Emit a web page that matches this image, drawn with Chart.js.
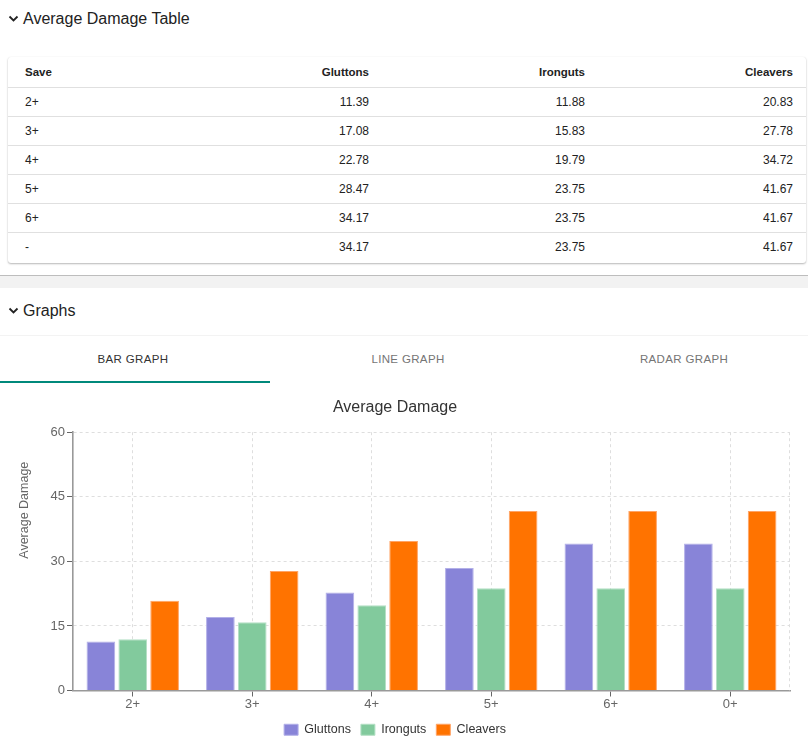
<!DOCTYPE html>
<html>
<head>
<meta charset="utf-8">
<script src="https://cdn.jsdelivr.net/npm/chart.js@4.4.1/dist/chart.umd.min.js"></script>
<style>
  html, body { margin: 0; padding: 0; background: #fff; }
  body { width: 808px; height: 739px; position: relative; overflow: hidden; font-family: Arial, "Liberation Sans", sans-serif; color: #222; }
  .head { position: absolute; left: 0; width: 808px; height: 24px; font-size: 16px; line-height: 24px; }
  .head svg { position: absolute; left: 8px; top: 8px; }
  .head span { position: absolute; left: 23px; top: 0; }
  .card { position: absolute; left: 8px; top: 57px; width: 798px; height: 206px; background: #fff;
          border-radius: 3px; box-shadow: 0 1px 2px rgba(0,0,0,0.28), 0 0 1px rgba(0,0,0,0.08); overflow: hidden; }
  table { border-collapse: collapse; width: 798px; table-layout: fixed; }
  th, td { padding: 0 13px 0 17px; font-size: 12px; }
  th { height: 30px; font-weight: bold; font-size: 11.5px; border-bottom: 1px solid #e0e0e0; }
  td { height: 28px; border-bottom: 1px solid #e0e0e0; }
  tr:last-child td { border-bottom: none; }
  th.num, td.num { text-align: right; }
  th.lbl, td.lbl { text-align: left; }
  .band { position: absolute; left: 0; top: 275px; width: 808px; height: 12px; background: #f2f2f2; border-top: 1px solid #bdbdbd; }
  .sep { position: absolute; left: 0; top: 335px; width: 808px; height: 1px; background: #f3f3f3; }
  .tab { position: absolute; top: 350px; width: 200px; text-align: center; font-size: 11.5px; letter-spacing: 0.35px; color: #757575; line-height: 18px; }
  .tab.on { color: #333; }
  .ink { position: absolute; left: 0; top: 381px; width: 270px; height: 2px; background: #00897b; }
  #wrap { position: absolute; left: 0; top: 390px; width: 808px; height: 356px; }
</style>
</head>
<body>
<div class="head" style="top:7px"><svg width="11" height="8" viewBox="0 0 11 8"><polyline points="1.5,1.5 5.5,5.5 9.5,1.5" fill="none" stroke="#222" stroke-width="1.8"/></svg><span>Average Damage Table</span></div>
<div class="card"><table id="tbl"></table></div>
<div class="band"></div>
<div class="head" style="top:299px"><svg width="11" height="8" viewBox="0 0 11 8"><polyline points="1.5,1.5 5.5,5.5 9.5,1.5" fill="none" stroke="#222" stroke-width="1.8"/></svg><span>Graphs</span></div>
<div class="sep"></div>
<div class="tab on" style="left:33px">BAR GRAPH</div>
<div class="tab" style="left:308px">LINE GRAPH</div>
<div class="tab" style="left:584px">RADAR GRAPH</div>
<div class="ink"></div>
<div id="wrap"><canvas id="chart"></canvas></div>

<script>
// Dati: righe della tabella e categorie del grafico (l'ultima riga "-" nel grafico è "0+").
const saveRows = ['2+', '3+', '4+', '5+', '6+', '-'];
const saveLabels = ['2+', '3+', '4+', '5+', '6+', '0+'];
const seriesNames = ['Gluttons', 'Ironguts', 'Cleavers'];
const gluttons = [11.39, 17.08, 22.78, 28.47, 34.17, 34.17];
const ironguts = [11.88, 15.83, 19.79, 23.75, 23.75, 23.75];
const cleavers = [20.83, 27.78, 34.72, 41.67, 41.67, 41.67];
const yTicks = [0, 15, 30, 45, 60];

const COLORS = ['#8884d8', '#82ca9d', '#ff7300'];
const EDGES = ['#b3b0e8', '#b4e0c4', '#ffa466'];
const seriesValues = [gluttons, ironguts, cleavers];

// Tabella
const tbl = document.getElementById('tbl');
const colW = [182, 192, 216, 208];
let html = '<colgroup>' + colW.map((w) => `<col style="width:${w}px">`).join('') + '</colgroup>';
html += '<tr><th class="lbl">Save</th>' + seriesNames.map((n) => `<th class="num">${n}</th>`).join('') + '</tr>';
saveRows.forEach((s, i) => {
  html += `<tr><td class="lbl">${s}</td>` + seriesValues.map((v) => `<td class="num">${v[i].toFixed(2)}</td>`).join('') + '</tr>';
});
tbl.innerHTML = html;

const font = { family: 'Arial, "Liberation Sans", sans-serif' };
const axisGrey = '#666';

// Bordo destro tratteggiato + titolo asse Y (spostato verso l'alto come nell'originale).
const extras = {
  id: 'extras',
  beforeDatasetsDraw(chart) {
    const { ctx, chartArea } = chart;
    ctx.save();
    ctx.strokeStyle = '#dedede';
    ctx.lineWidth = 1;
    ctx.setLineDash([3, 3]);
    ctx.beginPath();
    ctx.moveTo(chartArea.right - 0.5, chartArea.top);
    ctx.lineTo(chartArea.right - 0.5, chartArea.bottom);
    ctx.stroke();
    ctx.restore();
  },
  afterDraw(chart) {
    const { ctx, chartArea } = chart;
    ctx.save();
    ctx.translate(25, chartArea.top + 78);
    ctx.rotate(-Math.PI / 2);
    ctx.fillStyle = axisGrey;
    ctx.font = '12.5px Arial, "Liberation Sans", sans-serif';
    ctx.textAlign = 'center';
    ctx.textBaseline = 'middle';
    ctx.fillText('Average Damage', 0, 0);
    ctx.restore();
  },
};

new Chart(document.getElementById('chart'), {
  type: 'bar',
  data: {
    labels: saveLabels,
    datasets: seriesNames.map((name, i) => ({
      label: name,
      data: seriesValues[i],
      backgroundColor: COLORS[i],
      borderColor: EDGES[i],
      borderWidth: 1,
      categoryPercentage: 0.8,
      barPercentage: 0.9,
    })),
  },
  options: {
    responsive: true,
    maintainAspectRatio: false,
    animation: false,
    layout: { padding: { right: 18 } },
    scales: {
      x: {
        grid: { offset: false, color: '#dedede', tickColor: axisGrey, tickLength: 6, tickBorderDash: [] },
        border: { color: '#999', width: 1.6, dash: [3, 3] },
        ticks: { color: axisGrey, font: { ...font, size: 13 }, padding: 0 },
        afterFit: (s) => { s.height = 23; },
      },
      y: {
        min: 0, max: 60,
        afterBuildTicks: (s) => { s.ticks = yTicks.map((v) => ({ value: v })); },
        grid: { color: '#dedede', tickColor: axisGrey, tickLength: 6, tickBorderDash: [] },
        border: { color: '#999', width: 1.6, dash: [3, 3] },
        ticks: { color: axisGrey, font: { ...font, size: 13 }, padding: 2 },
        afterFit: (s) => { s.width = 73; },
      },
    },
    plugins: {
      title: { display: true, text: 'Average Damage', color: '#333', font: { ...font, size: 16, weight: 'normal' }, padding: { top: 8, bottom: 15 } },
      legend: {
        position: 'bottom',
        labels: { color: '#333', boxWidth: 14, boxHeight: 11, padding: 10, font: { ...font, size: 12.5 } },
      },
      tooltip: { enabled: false },
    },
  },
  plugins: [extras],
});
</script>
</body>
</html>
